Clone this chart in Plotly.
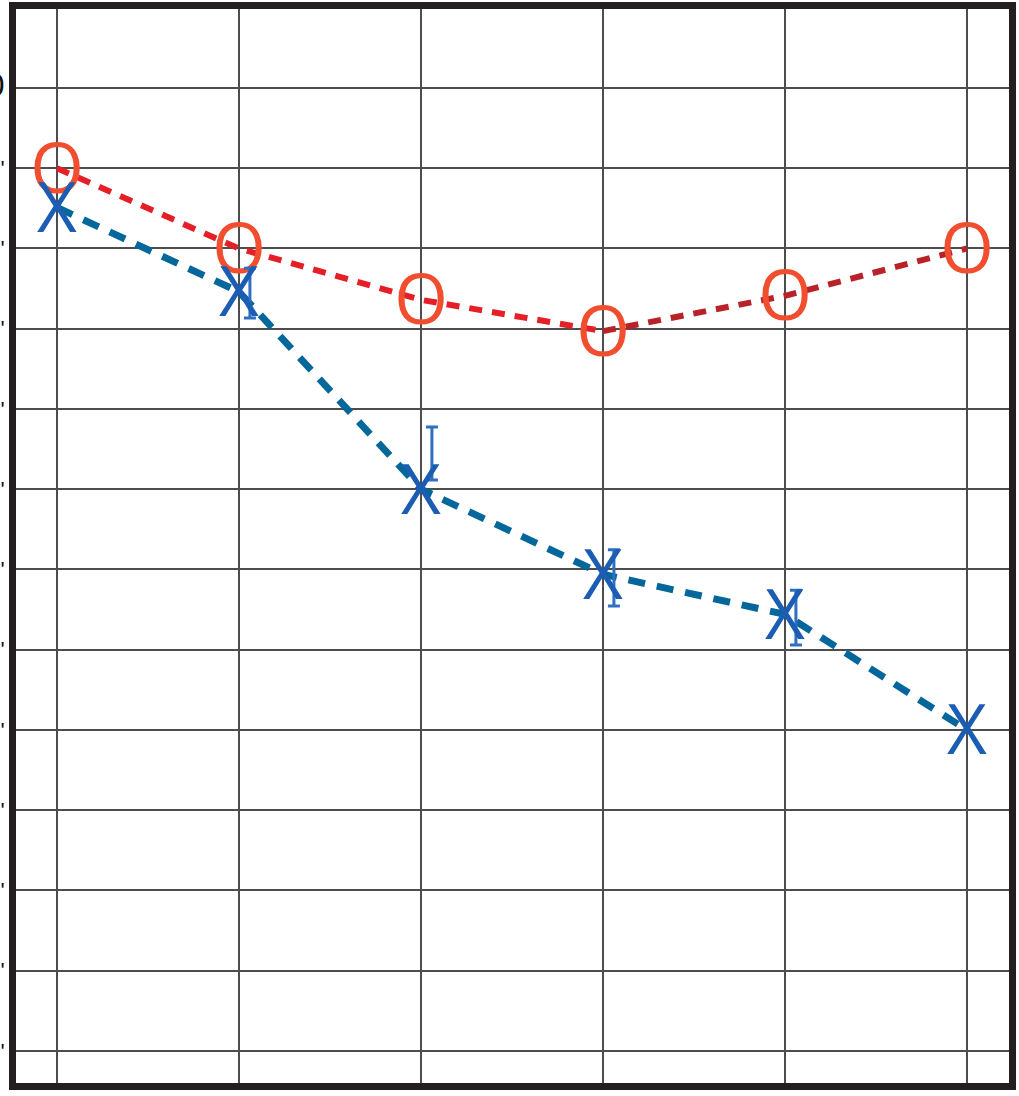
import plotly.graph_objects as go

# Six measurement stations along the x axis
stations = [0, 1, 2, 3, 4, 5]

# Series values
red_values = [90.0, 80.0, 73.6, 69.7, 74.1, 80.0]
blue_values = [85.1, 74.6, 50.0, 39.4, 34.4, 20.0]

# Uncertainty ranges for the blue series (centre and half-width)
blue_err_center = [None, 74.45, 54.45, 38.95, 34.0, None]
blue_err_half = [0, 3.1, 3.3, 3.5, 3.4, 0]

# y tick values and labels
y_ticks = [100, 90, 80, 70, 60, 50, 40, 30, 20, 10, 0, -10, -20]
y_tick_text = ['<span style="font-size:32px">100</span>'] + ["'" for _ in y_ticks[1:]]

RED_LINE = "#e41f26"
RED_LINE_DARK = "#b92229"
RED_MARK = "#f04e2f"
BLUE_LINE = "#04679b"
BLUE_MARK = "#1b5db3"
BLUE_ERR = "#2f6fc2"

GLYPH_FONT = "Open Sans"
GLYPH_PX = 69
# outer text size chosen so that the glyph's cap height is centred on the point
ANCHOR_SIZE = 98


def glyph(ch):
    return '<span style="font-size:%dpx">%s</span>' % (GLYPH_PX, ch)


fig = go.Figure()

# red series: first three segments bright, last two darker
fig.add_trace(go.Scatter(
    x=stations[:4], y=red_values[:4], mode="lines",
    line=dict(color=RED_LINE, width=6, dash="13px,10px"),
    hoverinfo="skip", showlegend=False))
fig.add_trace(go.Scatter(
    x=stations[3:], y=red_values[3:], mode="lines",
    line=dict(color=RED_LINE_DARK, width=6, dash="13px,10px"),
    hoverinfo="skip", showlegend=False))
fig.add_trace(go.Scatter(
    x=stations, y=red_values, mode="text", text=[glyph("O")] * len(stations),
    textposition="middle center",
    textfont=dict(family=GLYPH_FONT, size=ANCHOR_SIZE, color=RED_MARK),
    showlegend=False))

# blue series
fig.add_trace(go.Scatter(
    x=stations, y=blue_values, mode="lines",
    line=dict(color=BLUE_LINE, width=7, dash="17px,12px"),
    hoverinfo="skip", showlegend=False))

# error bars, drawn just to the right of each blue marker
err_offset = 0.06
fig.add_trace(go.Scatter(
    x=[s + err_offset for s in stations], y=blue_err_center, mode="markers",
    marker=dict(size=1, color="rgba(0,0,0,0)"),
    error_y=dict(type="data", array=blue_err_half, visible=True,
                 color=BLUE_ERR, thickness=3, width=6),
    hoverinfo="skip", showlegend=False))

fig.add_trace(go.Scatter(
    x=stations, y=blue_values, mode="text", text=[glyph("X")] * len(stations),
    textposition="middle center",
    textfont=dict(family=GLYPH_FONT, size=ANCHOR_SIZE, color=BLUE_MARK),
    showlegend=False))

FRAME = "#231f20"
GRID = "#4d4d4d"

fig.update_layout(
    width=1019, height=1096,
    margin=dict(l=16, r=10, t=9, b=13, autoexpand=False),
    paper_bgcolor="white", plot_bgcolor="white",
    showlegend=False,
    xaxis=dict(
        range=[-0.2253, 5.2308], tickvals=stations, showticklabels=False,
        showgrid=True, gridcolor=GRID, gridwidth=2, zeroline=False,
        showline=True, linecolor=FRAME, linewidth=7, mirror=True,
        ticks="", fixedrange=True),
    yaxis=dict(
        range=[-23.99, 109.84], tickvals=y_ticks, ticktext=y_tick_text,
        showticklabels=True, automargin=False,
        tickfont=dict(family="Liberation Sans", size=22, color="#111111"),
        ticklabelstandoff=0,
        showgrid=True, gridcolor=GRID, gridwidth=2, zeroline=False,
        showline=True, linecolor=FRAME, linewidth=7, mirror=True,
        ticks="", fixedrange=True),
)

fig.write_html("out.html")
